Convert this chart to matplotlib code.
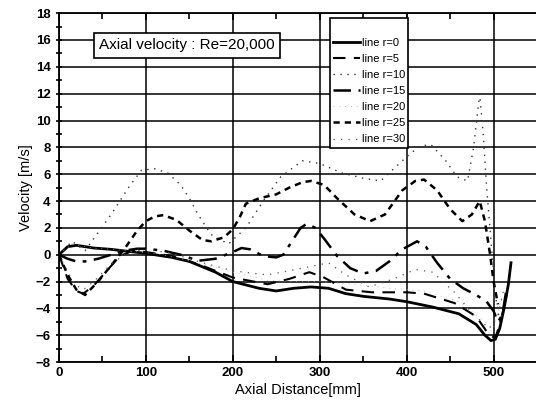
import matplotlib.pyplot as plt
from matplotlib.ticker import MultipleLocator
import numpy as np

plt.rcParams["font.family"] = ["Liberation Sans", "DejaVu Sans"]

# axial position [mm] and velocity [m/s], one pair per radius
x_r0 = [0, 10, 20, 40, 60, 80, 100, 130, 150, 180, 200, 230, 250, 270, 290, 310, 330,
        350, 380, 400, 430, 460, 480, 490, 497, 502, 507, 512, 517, 520]
v_r0 = [0, 0.6, 0.7, 0.5, 0.4, 0.25, 0.1, -0.2, -0.5, -1.3, -2.0, -2.5, -2.7, -2.5, -2.4,
        -2.5, -2.9, -3.1, -3.3, -3.5, -3.9, -4.4, -5.2, -6.0, -6.4, -6.3, -5.5, -4.0, -2.2, -0.6]

x_r5 = [0, 10, 20, 28, 40, 55, 70, 85, 100, 130, 160, 200, 240, 265, 288, 305, 330, 360,
        400, 420, 455, 480, 495, 502, 508, 515]
v_r5 = [0, -1.8, -2.7, -2.9, -2.3, -1.2, -0.1, 0.3, 0.2, -0.1, -0.7, -1.7, -2.2, -1.8,
        -1.3, -1.7, -2.6, -2.8, -2.8, -2.9, -3.6, -4.6, -6.0, -6.2, -5.0, -3.0]

x_r10 = [0, 15, 30, 60, 80, 95, 110, 125, 140, 150, 160, 175, 195, 215, 235, 255, 280,
         300, 325, 350, 370, 385, 400, 415, 428, 445, 458, 470, 477, 484, 488, 492, 497,
         502, 507, 512]
v_r10 = [0, 1.0, 0.3, 3.0, 5.0, 6.3, 6.4, 6.1, 5.2, 4.2, 3.0, 1.5, 0.8, 2.0, 4.0, 5.8,
         7.0, 6.8, 6.1, 5.7, 5.5, 6.4, 7.3, 8.1, 8.2, 7.0, 5.8, 5.5, 8.0, 12.0, 9.0, 5.0,
         1.0, -3.0, -5.0, -4.0]

x_r15 = [0, 10, 20, 30, 45, 60, 75, 90, 100, 120, 140, 160, 180, 200, 210, 220, 235, 250,
         258, 268, 278, 285, 295, 305, 320, 335, 350, 365, 380, 395, 412, 422, 435, 450,
         465, 480, 492, 500, 505, 510, 515]
v_r15 = [0, -0.3, -0.5, -0.5, -0.3, 0, 0.3, 0.45, 0.45, 0.3, 0, -0.45, -0.3, 0.2, 0.5,
         0.4, -0.1, -0.2, 0, 1.0, 2.0, 2.3, 2.0, 1.2, -0.1, -1.0, -1.4, -1.2, -0.5, 0.4,
         1.0, 0.6, -0.6, -1.8, -2.5, -3.0, -3.5, -4.2, -5.0, -4.5, -2.5]

x_r20 = [0, 15, 40, 80, 120, 160, 200, 240, 270, 300, 340, 380, 420, 460, 490, 500, 510]
v_r20 = [0, 0.8, 0.5, 0.3, 0, -0.6, -1.3, -1.9, -2.0, -2.0, -2.2, -2.5, -2.7, -3.5, -5.0,
         -5.5, -3.0]

x_r25 = [0, 10, 20, 30, 45, 60, 75, 90, 100, 110, 120, 135, 150, 165, 175, 190, 200, 208,
         215, 230, 250, 265, 280, 290, 305, 320, 340, 358, 375, 395, 410, 420, 435, 450,
         464, 475, 484, 490, 496, 500, 505]
v_r25 = [0, -1.5, -2.6, -3.0, -2.0, -0.8, 0.4, 1.8, 2.5, 2.85, 2.95, 2.6, 1.8, 1.1, 1.0,
         1.3, 1.9, 2.8, 3.8, 4.2, 4.5, 5.0, 5.4, 5.5, 5.2, 4.2, 3.0, 2.5, 3.0, 4.8, 5.5,
         5.6, 4.8, 3.4, 2.5, 3.0, 4.0, 2.5, 0, -2.0, -3.7]

x_r30 = [0, 8, 18, 28, 40, 60, 80, 100, 130, 160, 200, 240, 280, 310, 330, 357, 385, 410,
         430, 455, 476, 495, 505, 512]
v_r30 = [0, -1.0, -2.2, -2.6, -2.0, -0.7, 0.2, 0.4, 0.1, -0.5, -1.2, -1.5, -1.0, -0.6,
         -1.5, -2.4, -1.8, -1.1, -1.3, -2.8, -4.4, -5.5, -4.5, -2.5]

series = [
    ("line r=0", x_r0, v_r0, dict(ls="-", lw=2.0, color="black")),
    ("line r=5", x_r5, v_r5, dict(ls=(0, (6, 4)), lw=1.5, color="black")),
    ("line r=10", x_r10, v_r10, dict(ls=(0, (1, 4)), lw=1.0, color="#333333")),
    ("line r=15", x_r15, v_r15, dict(ls=(0, (7, 3, 1.5, 3)), lw=1.8, color="black")),
    ("line r=20", x_r20, v_r20, dict(ls=(0, (1, 6)), lw=0.6, color="#aaaaaa")),
    ("line r=25", x_r25, v_r25, dict(ls=(0, (2.5, 2)), lw=1.8, color="black")),
    ("line r=30", x_r30, v_r30, dict(ls=(0, (1, 5)), lw=0.9, color="#555555")),
]

fig = plt.figure(figsize=(5.36, 4.11), dpi=100)
ax = fig.add_axes([0.110, 0.119, 0.892, 0.849])

for label, xs, vs, style in series:
    ax.plot(xs, vs, label=label, **style)

ax.set_xlim(0, 550)
ax.set_ylim(-8, 18)
ax.xaxis.set_major_locator(MultipleLocator(100))
ax.xaxis.set_minor_locator(MultipleLocator(50))
ax.yaxis.set_major_locator(MultipleLocator(2))
ax.yaxis.set_minor_locator(MultipleLocator(1))
ax.grid(True, which="major", color="black", lw=1.1)
ax.tick_params(axis="x", which="both", direction="in", top=True, width=1.2)
ax.tick_params(axis="y", which="both", direction="inout", width=1.2)
ax.tick_params(which="major", length=5, labelsize=9.5)
ax.tick_params(which="minor", length=4)
for lab in ax.get_xticklabels() + ax.get_yticklabels():
    lab.set_fontweight("bold")
for sp in ax.spines.values():
    sp.set_linewidth(1.3)

ax.set_xlabel("Axial Distance[mm]", fontsize=10.5, labelpad=3)
ax.set_ylabel("Velocity [m/s]", fontsize=10.5, labelpad=2)

ax.text(147, 15.6, "Axial velocity : Re=20,000", fontsize=11, ha="center", va="center",
        bbox=dict(boxstyle="square,pad=0.35", fc="white", ec="black", lw=1.2))

leg = ax.legend(loc="upper left", bbox_to_anchor=(0.566, 0.985), fontsize=8,
                title=" ", title_fontsize=8, frameon=True, fancybox=False,
                edgecolor="black", framealpha=1, handlelength=2.4, handletextpad=0.2,
                labelspacing=0.55, borderpad=0.3, borderaxespad=0)
leg.get_frame().set_linewidth(1.2)

fig.savefig("out.png", dpi=100)
